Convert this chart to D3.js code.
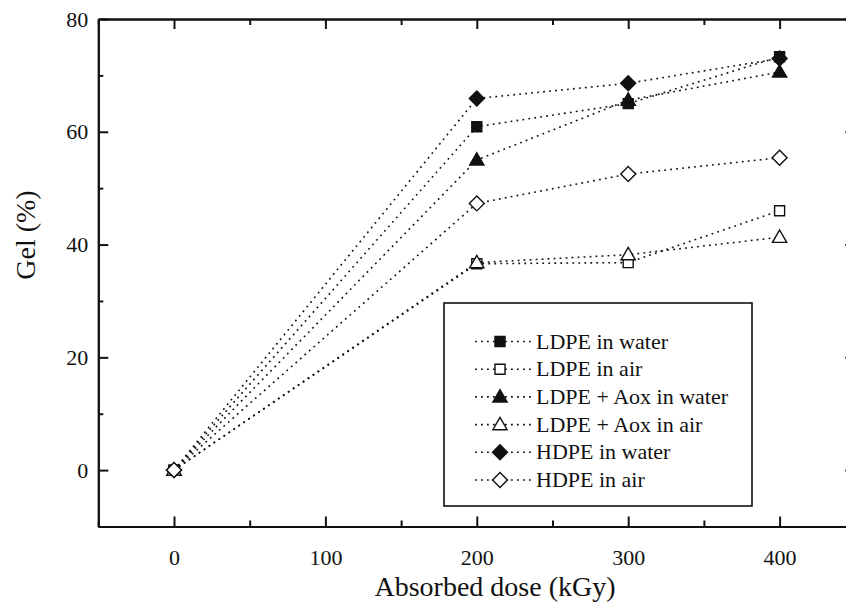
<!DOCTYPE html>
<html><head><meta charset="utf-8">
<script src="https://cdn.jsdelivr.net/npm/d3@7"></script>
<style>body{margin:0;background:#fff}svg{display:block}</style>
</head><body><svg id="c" width="846" height="605"></svg>
<script>
const doses = [0, 200, 300, 400];
const seriesNames = ["LDPE in water","LDPE in air","LDPE + Aox in water","LDPE + Aox in air","HDPE in water","HDPE in air"];
const ldpeWater = [0, 60.9, 65.0, 73.3];
const ldpeAir = [0, 36.6, 36.8, 46.0];
const ldpeAoxWater = [0, 55.0, 65.6, 70.6];
const ldpeAoxAir = [0, 36.8, 38.2, 41.3];
const hdpeWater = [0, 65.9, 68.6, 73.0];
const hdpeAir = [0, 47.3, 52.5, 55.4];
const xMajor = [0, 100, 200, 300, 400];
const xMinor = [-50, 50, 150, 250, 350];
const yMajor = [0, 20, 40, 60, 80];
const yMinor = [-10, 10, 30, 50, 70];

const seriesValues = [ldpeWater, ldpeAir, ldpeAoxWater, ldpeAoxAir, hdpeWater, hdpeAir];
const markerType = ["square","square","triangle","triangle","diamond","diamond"];
const markerFill = ["#111","#fff","#111","#fff","#111","#fff"];
const FONT = '"Liberation Serif","Times New Roman",Times,serif';

const svg = d3.select("#c");
const L = 98.3, T = 19, B = 526.5;
const x = d3.scaleLinear().domain([-50, 450]).range([L, L + 500*1.514]);
const y = d3.scaleLinear().domain([-10, 80]).range([B, T]);

function styleAxis(g){
  g.attr("font-family", FONT);
  g.selectAll(".domain").attr("stroke","#111").attr("stroke-width",2);
  g.selectAll(".tick line").attr("stroke","#111").attr("stroke-width",2);
  g.selectAll(".tick text").style("font-size","22px").style("font-family",FONT).attr("fill","#111");
}
// bottom
svg.append("g").attr("transform",`translate(0,${B})`)
  .call(d3.axisBottom(x).tickValues(xMajor).tickSize(-10).tickSizeOuter(0).tickPadding(23).tickFormat(d3.format("d")))
  .call(styleAxis);
svg.append("g").attr("transform",`translate(0,${B})`)
  .call(d3.axisBottom(x).tickValues(xMinor).tickSize(-6).tickSizeOuter(0).tickFormat(""))
  .call(styleAxis);
// top
svg.append("g").attr("transform",`translate(0,${T})`)
  .call(d3.axisTop(x).tickValues(xMajor).tickSize(-10).tickSizeOuter(0).tickFormat(""))
  .call(styleAxis);
svg.append("g").attr("transform",`translate(0,${T})`)
  .call(d3.axisTop(x).tickValues(xMinor).tickSize(-6).tickSizeOuter(0).tickFormat(""))
  .call(styleAxis);
// left
svg.append("g").attr("transform",`translate(${L},0)`)
  .call(d3.axisLeft(y).tickValues(yMajor).tickSize(-10).tickSizeOuter(0).tickPadding(10).tickFormat(d3.format("d")))
  .call(styleAxis);
svg.append("g").attr("transform",`translate(${L},0)`)
  .call(d3.axisLeft(y).tickValues(yMinor).tickSize(-5).tickSizeOuter(0).tickFormat(""))
  .call(styleAxis);
// right (falls beyond the visible area)
svg.append("g").attr("transform",`translate(${x(450)},0)`)
  .call(d3.axisRight(y).tickValues(yMajor).tickSize(-10).tickSizeOuter(0).tickFormat(""))
  .call(styleAxis);

// titles
svg.append("text").attr("x", 495).attr("y", 596).attr("text-anchor","middle").attr("fill","#111")
  .style("font-family",FONT).style("font-size","28px").text("Absorbed dose (kGy)");
svg.append("text").attr("transform","translate(35,235) rotate(-90)").attr("text-anchor","middle").attr("fill","#111")
  .style("font-family",FONT).style("font-size","28px").text("Gel (%)");

function symbolPath(t){
  if(t==="square") return d3.symbol().type(d3.symbolSquare).size(100)();
  if(t==="triangle") return d3.symbol().type(d3.symbolTriangle).size(88)();
  return d3.symbol().type(d3.symbolSquare).size(112)();
}
function drawMarker(g, t, fill, cx, cy){
  const tr = t==="triangle" ? `translate(${cx},${cy+1})` : (t==="diamond" ? `translate(${cx},${cy}) rotate(45)` : `translate(${cx},${cy})`);
  g.append("path").attr("d", symbolPath(t)).attr("transform", tr)
    .attr("fill", fill).attr("stroke","#111").attr("stroke-width",1.4);
}

const line = d3.line().x((d,i)=>x(doses[i])).y(d=>y(d));
const plot = svg.append("g");
seriesValues.forEach((vals)=>{
  plot.append("path").attr("d", line(vals)).attr("fill","none").attr("stroke","#111")
    .attr("stroke-width",1.6).attr("stroke-dasharray","1.8,4.2");
});
seriesValues.forEach((vals,k)=>{
  vals.forEach((v,i)=>drawMarker(plot, markerType[k], markerFill[k], x(doses[i]), y(v)));
});

// legend
const lg = svg.append("g");
lg.append("rect").attr("x",444).attr("y",303).attr("width",308).attr("height",203)
  .attr("fill","#fff").attr("stroke","#111").attr("stroke-width",1.6);
seriesNames.forEach((name,k)=>{
  const cy = 341.5 + k*27.7;
  lg.append("line").attr("x1",475).attr("x2",532).attr("y1",cy).attr("y2",cy)
    .attr("stroke","#111").attr("stroke-width",1.6).attr("stroke-dasharray","1.8,4.2");
  drawMarker(lg, markerType[k], markerFill[k], 500, cy);
  lg.append("text").attr("x",536).attr("y",cy+7).attr("fill","#111").style("font-family",FONT).style("font-size","22px").text(name);
});
</script></body></html>
